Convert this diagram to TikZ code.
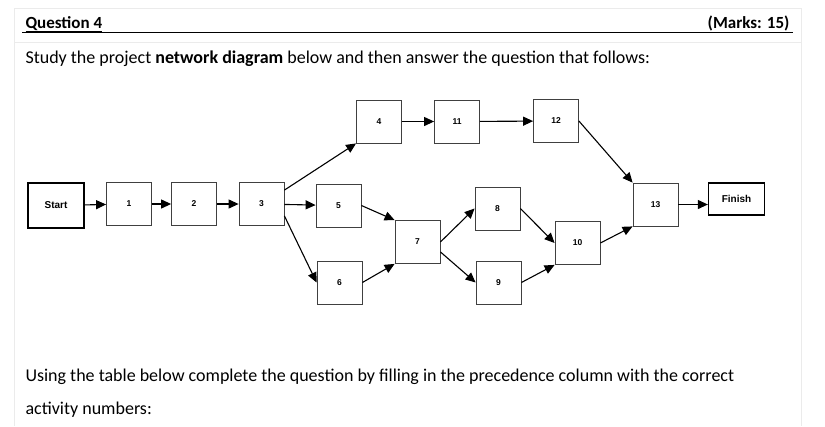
\documentclass[tikz,border=0pt]{standalone}
\usepackage{fontspec}
\setmainfont{Carlito}
\newfontfamily\arial{Liberation Sans}
\usetikzlibrary{arrows.meta}
\begin{document}
\begin{tikzpicture}[x=1pt,y=-1pt,
  bx/.style={draw=black!75,line width=0.8pt,minimum width=45pt,minimum height=43pt,inner sep=0pt,font=\arial\bfseries\fontsize{8.5}{9}\selectfont},
  ends/.style={draw=black,line width=1.3pt,minimum width=56pt,inner sep=0pt,font=\arial\bfseries\fontsize{10}{11}\selectfont},
  ar/.style={line width=1.1pt,-{Triangle[length=10pt,width=9pt]}},
  txt/.style={anchor=base west,font=\fontsize{18}{20}\selectfont}]
\useasboundingbox (0,0) rectangle (825,426);
\fill[white] (0,0) rectangle (825,426);
\draw[black!8,line width=1pt] (14,8) rectangle (801,42);
\draw[black!8,line width=1pt] (14,42) -- (14,426) (801,42) -- (801,426);
\node[txt,font=\fontsize{17}{18}\selectfont\bfseries] (q) at (22,28) {\underline{Question 4}};
\node[txt,anchor=base east,font=\fontsize{17}{18}\selectfont\bfseries] (m) at (793,28) {(Marks: 15)};
\draw[line width=0.8pt] (22,32) -- (793,32);
\node[txt] (s) at (22,63) {Study the project \textbf{network diagram} below and then answer the question that follows:};
\node[txt] (u) at (22,381) {Using the table below complete the question by filling in the precedence column with the correct};
\node[txt] (an) at (22,414) {activity numbers:};

\node[ends,minimum height=45pt] (st) at (56,205.5) {Start};
\node[bx] (n1) at (129,204) {1};
\node[bx] (n2) at (194,204) {2};
\node[bx] (n3) at (261.5,204) {3};
\node[bx] (n4) at (379,121.5) {4};
\node[bx] (n5) at (338.5,205.5) {5};
\node[bx] (n6) at (339.5,282.5) {6};
\node[bx] (n7) at (417.5,242) {7};
\node[bx] (n11) at (457,121.5) {11};
\node[bx] (n12) at (556,121) {12};
\node[bx] (n8) at (497.5,208.5) {8};
\node[bx] (n9) at (498.5,282.5) {9};
\node[bx] (n10) at (577.5,243) {10};
\node[bx] (n13) at (655.5,204.5) {13};
\node[ends,minimum height=32pt] (fi) at (736.5,199) {Finish};

\draw[ar] (st) -- (n1);
\draw[ar] (n1) -- (n2);
\draw[ar] (n2) -- (n3);
\draw[ar] (n3) -- (n5);
\draw[ar] (n3.north east) ++(0,8) coordinate (c3a) -- (n4.south west);
\draw[ar] (n3.south east) ++(0,-10) coordinate (c3b) -- (n6.west);
\draw[ar] (n4) -- (n11);
\draw[ar] (n11) -- (n12);
\draw[ar] (n5.east) -- (n7.north west);
\draw[ar] (n6.east) -- (n7.south west);
\draw[ar] (n7.east) -- (n8.west);
\draw[ar] (n7.south east) ++(0,-12) coordinate (c7) -- (n9.west);
\draw[ar] (n8.east) -- (n10.west);
\draw[ar] (n9.east) -- (n10.south west);
\draw[ar] (n12.east) -- (n13.north west);
\draw[ar] (n10.east) -- (n13.south west);
\draw[ar] (n13) -- (fi.west |- n13);
\end{tikzpicture}
\end{document}
